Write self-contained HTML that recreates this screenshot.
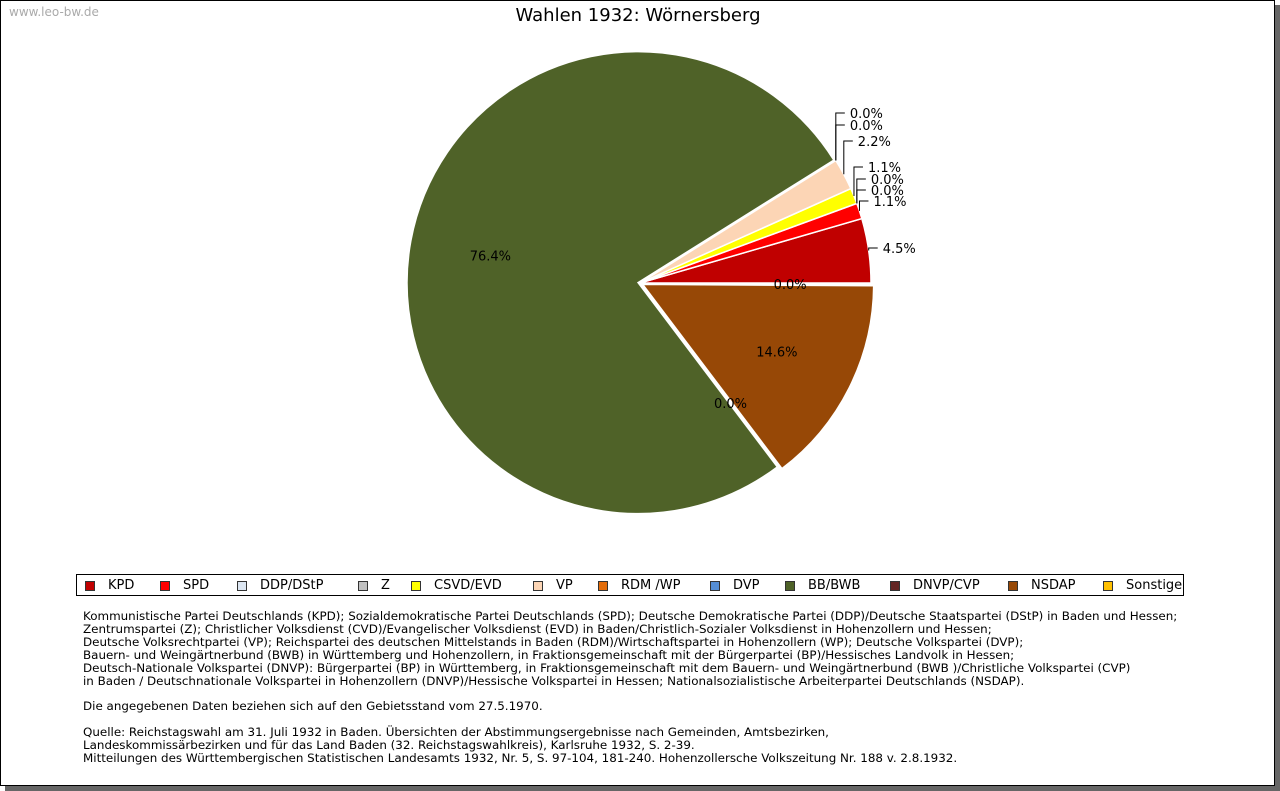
<!DOCTYPE html>
<html><head><meta charset="utf-8"><style>
body{margin:0;width:1280px;height:791px;background:#fff;font-family:"DejaVu Sans","Liberation Sans",sans-serif;overflow:hidden}
#frame{position:absolute;left:0;top:0;width:1273px;height:784px;border:1px solid #000;background:#fff;box-shadow:5px 5px 0 #666}
#wm{position:absolute;left:8px;top:4px;font-size:12px;color:#aaa}
#title{position:absolute;left:0;width:1274px;top:4px;text-align:center;font-size:18px;color:#000}
#legend{position:absolute;left:75px;top:573px;width:1106px;height:20px;border:1px solid #000}
.li{position:absolute;top:3px;font-size:13px;white-space:nowrap}
.sw{position:absolute;top:6px;width:10px;height:10px;border:1px solid #333;box-sizing:border-box}
#notes{position:absolute;left:82px;top:609px;font-size:11.9px;line-height:12.9px;color:#000;white-space:pre}
</style></head><body>
<div id="frame">
<div id="wm">www.leo-bw.de</div>
<div id="title">Wahlen 1932: Wörnersberg</div>
<svg id="pie" width="1274" height="560" style="position:absolute;left:0;top:0"></svg>
<div id="legend"></div>
<div id="notes">Kommunistische Partei Deutschlands (KPD); Sozialdemokratische Partei Deutschlands (SPD); Deutsche Demokratische Partei (DDP)/Deutsche Staatspartei (DStP) in Baden und Hessen;
Zentrumspartei (Z); Christlicher Volksdienst (CVD)/Evangelischer Volksdienst (EVD) in Baden/Christlich-Sozialer Volksdienst in Hohenzollern und Hessen;
Deutsche Volksrechtpartei (VP); Reichspartei des deutschen Mittelstands in Baden (RDM)/Wirtschaftspartei in Hohenzollern (WP); Deutsche Volkspartei (DVP);
Bauern- und Weingärtnerbund (BWB) in Württemberg und Hohenzollern, in Fraktionsgemeinschaft mit der Bürgerpartei (BP)/Hessisches Landvolk in Hessen;
Deutsch-Nationale Volkspartei (DNVP): Bürgerpartei (BP) in Württemberg, in Fraktionsgemeinschaft mit dem Bauern- und Weingärtnerbund (BWB )/Christliche Volkspartei (CVP)
in Baden / Deutschnationale Volkspartei in Hohenzollern (DNVP)/Hessische Volkspartei in Hessen; Nationalsozialistische Arbeiterpartei Deutschlands (NSDAP).

Die angegebenen Daten beziehen sich auf den Gebietsstand vom 27.5.1970.

Quelle: Reichstagswahl am 31. Juli 1932 in Baden. Übersichten der Abstimmungsergebnisse nach Gemeinden, Amtsbezirken,
Landeskommissärbezirken und für das Land Baden (32. Reichstagswahlkreis), Karlsruhe 1932, S. 2-39.
Mitteilungen des Württembergischen Statistischen Landesamts 1932, Nr. 5, S. 97-104, 181-240. Hohenzollersche Volkszeitung Nr. 188 v. 2.8.1932.</div>
</div>
<script>
const parties = ["KPD","SPD","DDP/DStP","Z","CSVD/EVD","VP","RDM /WP","DVP","BB/BWB","DNVP/CVP","NSDAP","Sonstige"];
const values = [4.5,1.1,0.0,0.0,1.1,2.2,0.0,0.0,76.4,0.0,14.6,0.0];
const colors = ["#c00000","#ff0000","#dce6f2","#c0c0c0","#ffff00","#fcd5b5","#e36c09","#558ed5","#4f6228","#632523","#974806","#ffc000"];
const legendX = [84,159,236,357,410,532,597,709,784,889,1007,1102];
const outerLabelY = [247,200,189,178,166,140,124,112];

const NS="http://www.w3.org/2000/svg";
const svg=document.getElementById('pie');
const cx=639, cy=282, r=231;
const explode=[0,0,0,0,0,0,0,0,2,0,3,0];
const ang=p=>p/100*2*Math.PI;
const labels=[];
let cum=0;
values.forEach((v,i)=>{
  const a0=ang(cum), a1=ang(cum+v), mid=(a0+a1)/2;
  cum+=v;
  const ox=explode[i]*Math.cos(mid), oy=-explode[i]*Math.sin(mid);
  const x=cx+ox, y=cy+oy;
  if(v>0){
    const p=document.createElementNS(NS,'path');
    const large=(a1-a0)>Math.PI?1:0;
    p.setAttribute('d',`M${x},${y} L${x+r*Math.cos(a0)},${y-r*Math.sin(a0)} A${r},${r} 0 ${large} 0 ${x+r*Math.cos(a1)},${y-r*Math.sin(a1)} Z`);
    p.setAttribute('fill',colors[i]);
    p.setAttribute('stroke','#fff');
    p.setAttribute('stroke-width','1.5');
    
    
    svg.appendChild(p);
  }
  labels.push({i,v,mid,x,y});
});
labels.forEach(({i,v,mid,x,y})=>{
  const t=document.createElementNS(NS,'text');
  t.setAttribute('font-size','13');
  t.setAttribute('font-family','DejaVu Sans, sans-serif');
  
  
  if(i<outerLabelY.length){
    const ex=cx+r*Math.cos(mid), ey=cy-r*Math.sin(mid);
    const ly=outerLabelY[i];
    const l=document.createElementNS(NS,'polyline');
    l.setAttribute('points',`${ex},${ey} ${ex},${ly} ${ex+9},${ly}`);
    l.setAttribute('fill','none');l.setAttribute('stroke','#000');l.setAttribute('stroke-width','1');
    
    
    svg.appendChild(l);
    t.setAttribute('x',ex+14);t.setAttribute('y',ly+5);
  } else {
    const rr=0.65*r;
    t.setAttribute('x',x+rr*Math.cos(mid));t.setAttribute('y',y-rr*Math.sin(mid)+5);
    t.setAttribute('text-anchor','middle');
  }
  t.textContent=v.toFixed(1)+'%';
  svg.appendChild(t);
});
const lg=document.getElementById('legend');
parties.forEach((p,i)=>{
  const s=document.createElement('div');s.className='sw';
  s.style.left=(legendX[i]-76)+'px';s.style.background=colors[i];
  
  
  const t=document.createElement('div');t.className='li';
  t.style.left=(legendX[i]-76+23)+'px';t.textContent=p;
  
  
  lg.appendChild(s);lg.appendChild(t);
});
</script>
</body></html>
